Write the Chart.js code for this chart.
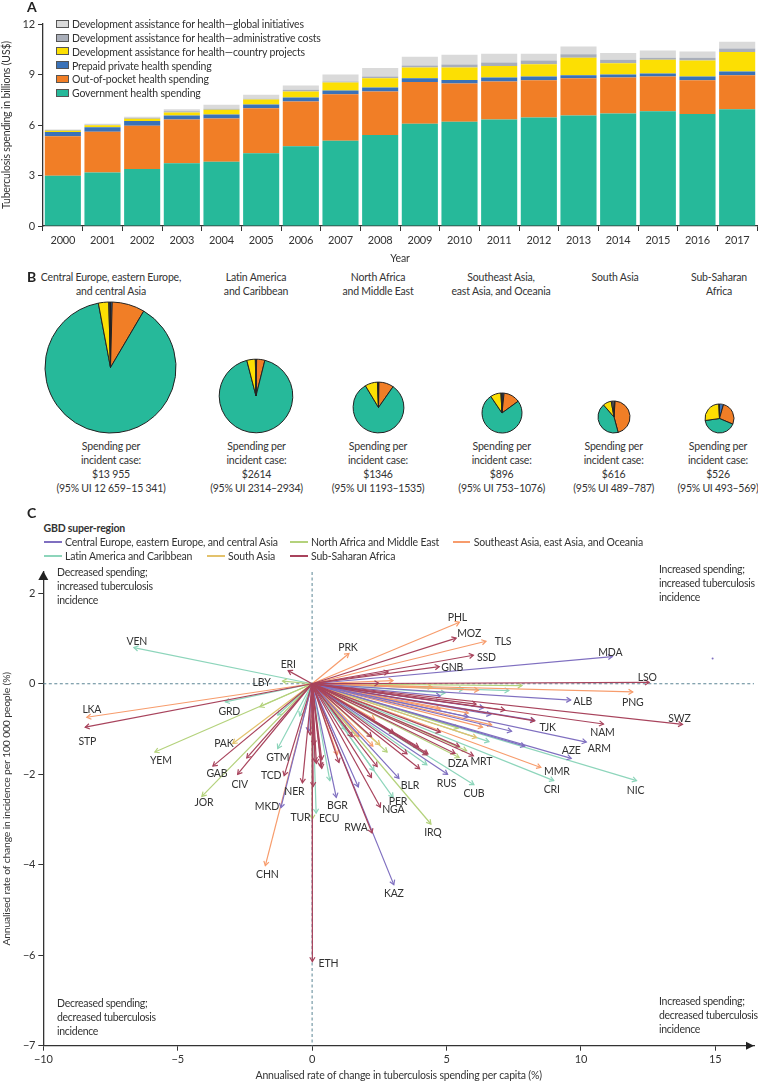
<!DOCTYPE html>
<html><head><meta charset="utf-8">
<script src="https://cdn.jsdelivr.net/npm/chart.js@4"></script>
<style>
html,body{margin:0;padding:0;background:#fff}
body{position:relative;width:758px;height:1082px;overflow:hidden;font-family:Lato,sans-serif;color:#333;font-size:10.5px;letter-spacing:-0.18px}
canvas{position:absolute;display:block}
.t{position:absolute;white-space:nowrap;line-height:13.7px}
.c{transform:translateX(-50%);text-align:center}
.h{font-weight:700;font-size:14px;color:#222}
.sw{position:absolute;box-sizing:border-box;width:13px;height:8px;border:1px solid #555}
.ln{position:absolute;height:1.5px;width:17.5px}
</style></head><body>
<canvas id="bars" width="758" height="270" style="left:0;top:0"></canvas>
<canvas id="arrows" width="758" height="522" style="left:0;top:560px"></canvas>
<script>
// ---------- Panel A ----------
const years = ['2000','2001','2002','2003','2004','2005','2006','2007','2008','2009','2010','2011','2012','2013','2014','2015','2016','2017'];
const government = [2.98,3.18,3.39,3.73,3.81,4.32,4.74,5.07,5.41,6.08,6.20,6.33,6.45,6.57,6.69,6.81,6.65,6.93];
const outOfPocket = [2.35,2.42,2.57,2.59,2.58,2.67,2.66,2.75,2.58,2.47,2.27,2.25,2.21,2.21,2.13,2.07,2.01,2.03];
const prepaid = [0.25,0.26,0.28,0.25,0.24,0.23,0.24,0.23,0.24,0.23,0.21,0.24,0.22,0.18,0.18,0.18,0.22,0.22];
const countryProjects = [0.08,0.12,0.13,0.18,0.28,0.30,0.35,0.48,0.55,0.63,0.73,0.69,0.73,1.04,0.67,0.81,0.95,1.16];
const adminCosts = [0.04,0.04,0.04,0.06,0.06,0.04,0.10,0.06,0.10,0.12,0.18,0.20,0.22,0.20,0.20,0.13,0.17,0.20];
const globalInitiatives = [0.04,0.06,0.08,0.12,0.23,0.24,0.26,0.41,0.51,0.52,0.59,0.53,0.41,0.46,0.41,0.42,0.36,0.41];
const spendNames = ['Government health spending','Out-of-pocket health spending','Prepaid private health spending','Development assistance for health—country projects','Development assistance for health—administrative costs','Development assistance for health—global initiatives'];
const spendColors = ['#26b99a','#f17e26','#3a72b8','#fcdf03','#a9aeb9','#dadada'];
const spendSeries = [government,outOfPocket,prepaid,countryProjects,adminCosts,globalInitiatives];
const barTicks = [0,3,6,9,12];

// ---------- Panel B (degrees of each pie: prepaid, out-of-pocket, government, country, admin, global) ----------
const pieRegions = [['Central Europe, eastern Europe,','and central Asia'],['Latin America','and Caribbean'],['North Africa','and Middle East'],['Southeast Asia,','east Asia, and Oceania'],['South Asia'],['Sub-Saharan','Africa']];
const pieCosts = ['$13 955','$2614','$1346','$896','$616','$526'];
const pieUI = ['(95% UI 12 659–15 341)','(95% UI 2314–2934)','(95% UI 1193–1535)','(95% UI 753–1076)','(95% UI 489–787)','(95% UI 493–569)'];
const pieCEE = [1.5,29,318.8,9.2,0.8,0.7];
const pieLAC = [1,13,331.5,13.5,0.5,0.5];
const pieNAME = [1,34,294,29,1,1];
const pieSEA = [6,48,272,31,2,1];
const pieSA = [4,161,154,31,6,4];
const pieSSA = [16,97,149,96,1,1];
const pieSeries = [pieCEE,pieLAC,pieNAME,pieSEA,pieSA,pieSSA];

// ---------- Panel C: [ISO code, spending change %, incidence change %] ----------
const ssaArrows = [['ERI',-0.89,0.29],['STP',-8.44,-0.96],['GAB',-3.69,-1.82],['CIV',-2.77,-2.0],['',-2.43,-1.64],['TCD',-1.04,-2.03],['NER',-0.36,-2.19],['ETH',0.01,-6.14],['RWA',2.23,-3.3],['NGA',2.54,-2.73],['MRT',6.0,-1.59],['MOZ',5.36,1.01],['SSD',6.0,0.63],['GNB',4.73,0.38],['LSO',12.54,0.03],['SWZ',13.78,-0.9],['NAM',10.84,-0.89],['',2.83,0.26],['',2.48,0.01],['',6.1,-0.45],['',7.17,-0.58],['',8.28,-0.82],['',4.77,-1.07],['',5.48,-1.39],['',5.32,-1.54],['',4.31,-1.55],['',3.96,-1.4],['',3.53,-1.55],['',4.0,-1.88],['',3.04,-1.09],['',2.21,-1.17],['',1.0,-1.74],['',0.33,-1.83],['',0.07,-1.35],['',-0.07,-1.13],['',2.21,-2.07],['',2.42,-1.83],['',0.36,-1.87],['',0.11,-1.72],['',0.04,-2.27],['',0.36,-1.68],['',0.16,-1.76],['',1.49,-1.17],['',4.27,-1.57]];
const ceeArrows = [['MKD',-1.16,-2.74],['BGR',0.9,-2.51],['KAZ',3.04,-4.44],['BLR',3.23,-2.09],['RUS',5.04,-2.0],['MDA',11.17,0.6],['ALB',9.62,-0.36],['TJK',8.28,-0.81],['ARM',10.2,-1.29],['AZE',9.64,-1.65],['',4.77,-0.27],['',6.38,-0.53],['',6.65,-0.68],['',7.42,-1.05],['',5.81,-0.73],['',7.91,-1.38],['',-0.14,-1.06],['',1.72,-2.28]];
const seaArrows = [['LKA',-8.38,-0.74],['CHN',-1.74,-4.02],['PHL',5.48,1.36],['TLS',6.47,0.94],['PRK',1.37,0.67],['PNG',11.93,-0.18],['MMR',8.51,-1.85],['',3.01,0.07],['',6.19,-0.14],['',5.81,-0.65],['',6.68,-0.91],['',6.34,-0.96],['',4.77,-0.56],['',2.33,-0.79],['',2.26,-1.38],['',0.94,-1.57],['',1.74,-1.17]];
const saArrows = [['PAK',-2.95,-1.32],['',4.46,-0.07],['',6.12,-1.19],['',2.52,-1.35]];
const nameArrows = [['LBY',-1.1,0.06],['YEM',-5.85,-1.51],['JOR',-4.1,-2.49],['TUR',0.01,-2.99],['IRQ',4.42,-3.1],['DZA',5.47,-1.63],['',7.81,-0.04],['',5.75,-1.48],['',5.44,-0.98],['',2.79,-1.51],['',-1.94,-0.51]];
const lacArrows = [['VEN',-6.63,0.8],['GRD',-3.23,-0.4],['GTM',-1.28,-1.43],['ECU',0.15,-2.86],['PER',3.01,-2.51],['CUB',6.02,-2.23],['NIC',12.07,-2.14],['CRI',8.99,-2.14],['',5.63,-0.12],['',7.32,-0.15],['',4.95,-0.2],['',6.58,-1.28],['',4.27,-1.79],['',0.66,-2.14],['',2.3,-1.92],['',-0.46,-0.71],['',-1.28,-0.69],['',1.25,-1.02]];
const strayPoint = [[14.9,0.56]];
const regionNames = ['Central Europe, eastern Europe, and central Asia','North Africa and Middle East','Southeast Asia, east Asia, and Oceania','Latin America and Caribbean','South Asia','Sub-Saharan Africa'];
const regionColors = ['#7f6fc0','#b4d27c','#f79c6c','#8dd5bb','#e3c26c','#a8435c'];
const regionArrows = [ceeArrows,nameArrows,seaArrows,lacArrows,saArrows,ssaArrows];
const drawOrder = [5,0,2,4,1,3];
const xTickValues = [-10,-5,0,5,10,15];
const yTickValues = [2,0,-2,-4,-6,-8];
const yTickLabels = ['2','0','−2','−4','−6','−7'];
const labelOffset = {VEN:[3,-6],ERI:[0,-6],LBY:[-21,2],LKA:[5,-8],STP:[2,14],GRD:[4,10],YEM:[6,9],PAK:[-9,0],GAB:[4,8],CIV:[2,10],JOR:[2,6],GTM:[0,9],TCD:[-13,0],NER:[-8,9],MKD:[-14,-1],TUR:[-12,-1],ECU:[13,5],BGR:[1,8],CHN:[2,9],ETH:[16,2],KAZ:[0,9],RWA:[-16,-5],NGA:[13,2],PER:[5,4],BLR:[11,7],RUS:[-1,9],IRQ:[2,9],CUB:[0,9],DZA:[-1,6],MRT:[8,6],PHL:[-2,-5],MOZ:[13,-4],TLS:[17,0],SSD:[13,2],GNB:[13,1],PRK:[-1,-6],MDA:[-2,-4],LSO:[-2,-5],PNG:[0,11],ALB:[12,2],SWZ:[-3,-6],NAM:[-1,9],TJK:[13,7],ARM:[13,6],AZE:[0,-8],NIC:[-1,10],MMR:[16,4],CRI:[-2,9]};

const FONT='Lato, sans-serif', INK='#333';
Chart.defaults.font.family=FONT; Chart.defaults.font.size=11; Chart.defaults.color=INK;
Chart.defaults.animation=false; Chart.defaults.responsive=false;

function addText(txt,x,y,cls,style){const d=document.createElement('div');d.className='t '+(cls||'');d.textContent=txt;d.style.left=x+'px';d.style.top=(y-5.6)+'px';if(style)Object.assign(d.style,style);document.body.appendChild(d);return d;}

// Panel A
new Chart(document.getElementById('bars'),{type:'bar',
 data:{labels:years,datasets:spendSeries.map((s,i)=>({label:spendNames[i],data:s,backgroundColor:spendColors[i],stack:'a',barPercentage:0.91,categoryPercentage:1}))},
 options:{layout:{padding:{top:24,left:0,right:1,bottom:0}},
  plugins:{legend:{display:false},tooltip:{enabled:false}},
  scales:{
   x:{stacked:true,afterFit:s=>{s.height=44},grid:{offset:true,drawOnChartArea:false,tickLength:5,color:INK,tickColor:INK},border:{color:INK,width:1.3},ticks:{maxRotation:0,autoSkip:false,padding:3,color:INK,font:{size:11}},title:{display:true,text:'Year',color:INK,font:{size:10.5},padding:{top:3,bottom:5}}},
   y:{stacked:true,min:0,max:12,afterFit:s=>{s.width=43},afterBuildTicks:s=>{s.ticks=barTicks.map(v=>({value:v}))},grid:{drawOnChartArea:false,tickLength:5,color:INK,tickColor:INK},border:{color:INK,width:1.3},ticks:{padding:3,color:INK,font:{size:11}},title:{display:true,text:'Tuberculosis spending in billions (US$)',color:INK,font:{size:10.5},padding:{top:0,bottom:0}}}
  }}});
// Panel A legend
for(let i=5;i>=0;i--){const y=24+(5-i)*13.7;const s=document.createElement('div');s.className='sw';s.style.left='55.5px';s.style.top=(y-4)+'px';s.style.background=spendColors[i];document.body.appendChild(s);addText(spendNames[i],72,y);}

// Panel B
const pieGeom=[[110.5,367.7,65.5],[255.8,396,36.8],[378,407.6,25.4],[502.2,413,20],[613.8,417,16],[719.5,418.5,14.5]];
const headX=[111,256,378,501,615,719], footX=[111,256.5,378,501.7,613.7,718];
pieSeries.forEach((vals,i)=>{
 const [cx,cy,r]=pieGeom[i], size=Math.ceil(2*r)+6;
 const c=document.createElement('canvas');c.width=size;c.height=size;c.style.left=(cx-size/2)+'px';c.style.top=(cy-size/2)+'px';document.body.appendChild(c);
 new Chart(c,{type:'pie',data:{labels:['Prepaid private','Out-of-pocket','Government','Country projects','Administrative costs','Global initiatives'],
  datasets:[{data:vals,radius:r,backgroundColor:[spendColors[2],spendColors[1],spendColors[0],spendColors[3],spendColors[4],spendColors[5]],borderColor:'#222',borderWidth:1}]},
  options:{layout:{padding:1},plugins:{legend:{display:false},tooltip:{enabled:false}}}});
 pieRegions[i].forEach((l,k)=>addText(l,headX[i],277+k*14,'c'));
 ['Spending per','incident case:',pieCosts[i],pieUI[i]].forEach((l,k)=>addText(l,footX[i],446+k*13.7,'c',k==3?{letterSpacing:'-0.25px'}:null));
});

// Panel C
const rows=[];
drawOrder.forEach(ri=>regionArrows[ri].forEach(a=>rows.push({code:a[0],region:ri,x:a[1],y:a[2]})));
const arrowData=rows.map(a=>({label:a.code||regionNames[a.region],data:[{x:0,y:0},{x:a.x,y:a.y}],showLine:true,borderColor:regionColors[a.region],borderWidth:1.2,pointRadius:0,code:a.code,clip:false}));
arrowData.push({label:'',data:strayPoint.map(p=>({x:p[0],y:p[1]})),showLine:false,pointRadius:1,backgroundColor:regionColors[0],borderWidth:0});
const arrowPlugin={id:'arrows',
 beforeDatasetsDraw(ch){const {ctx,scales:{x,y}}=ch;ctx.save();ctx.setLineDash([3,2.5]);ctx.lineWidth=1;ctx.strokeStyle='#5b8594';
  ctx.beginPath();ctx.moveTo(x.getPixelForValue(0),y.top);ctx.lineTo(x.getPixelForValue(0),y.bottom);ctx.moveTo(x.left,y.getPixelForValue(0));ctx.lineTo(x.right,y.getPixelForValue(0));ctx.stroke();ctx.restore();},
 afterDatasetDraw(ch,args){const ds=ch.data.datasets[args.index];if(!ds.showLine)return;const {ctx}=ch;const m=ch.getDatasetMeta(args.index).data;const a=m[0],b=m[1];const ang=Math.atan2(b.y-a.y,b.x-a.x);const L=5,W=0.55;
  ctx.save();ctx.strokeStyle=ds.borderColor;ctx.lineWidth=1.2;ctx.beginPath();ctx.moveTo(b.x-L*Math.cos(ang-W),b.y-L*Math.sin(ang-W));ctx.lineTo(b.x,b.y);ctx.lineTo(b.x-L*Math.cos(ang+W),b.y-L*Math.sin(ang+W));ctx.stroke();ctx.restore();},
 afterDatasetsDraw(ch){const {ctx,scales:{x,y}}=ch;ctx.save();ctx.fillStyle='#222';
  ctx.beginPath();ctx.moveTo(x.left,y.top-1);ctx.lineTo(x.left-5,y.top+8);ctx.lineTo(x.left+5,y.top+8);ctx.closePath();ctx.fill();
  ctx.beginPath();ctx.moveTo(x.right,y.bottom);ctx.lineTo(x.right-8,y.bottom-4);ctx.lineTo(x.right-8,y.bottom+4);ctx.closePath();ctx.fill();
  ctx.font='10.5px '+FONT;ctx.fillStyle=INK;ctx.textAlign='center';ctx.textBaseline='middle';
  ch.data.datasets.forEach((ds,i)=>{if(!ds.code)return;const b=ch.getDatasetMeta(i).data[1];const o=labelOffset[ds.code]||[0,0];ctx.fillText(ds.code,b.x+o[0],b.y+o[1]);});
  ctx.restore();}
};
new Chart(document.getElementById('arrows'),{type:'scatter',data:{datasets:arrowData},plugins:[arrowPlugin],
 options:{layout:{padding:{top:12,left:0,right:1,bottom:0}},plugins:{legend:{display:false},tooltip:{enabled:false}},
  scales:{
   x:{type:'linear',min:-10,max:16.44,afterFit:s=>{s.height=36.3},afterBuildTicks:s=>{s.ticks=xTickValues.map(v=>({value:v}))},grid:{drawOnChartArea:false,tickLength:5,color:INK,tickColor:INK},border:{color:INK,width:1.3},
    ticks:{padding:2,color:INK,font:{size:11},maxRotation:0,callback:v=>String(v).replace('-','−')},title:{display:true,text:'Annualised rate of change in tuberculosis spending per capita (%)',color:INK,font:{size:10.5},padding:{top:4,bottom:0}}},
   y:{type:'linear',min:-8,max:2.47,afterFit:s=>{s.width=43.3},afterBuildTicks:s=>{s.ticks=yTickValues.map(v=>({value:v}))},grid:{drawOnChartArea:false,tickLength:5,color:INK,tickColor:INK},border:{color:INK,width:1.3},
    ticks:{padding:3,color:INK,font:{size:11},callback:v=>yTickLabels[yTickValues.indexOf(v)]},title:{display:true,text:'Annualised rate of change in incidence per 100 000 people (%)',color:INK,font:{size:10.4},padding:{top:0,bottom:0}}}
  }}});
// Panel C legend
addText('GBD super-region',43.5,528,'',{fontWeight:'700'});
const legendSlots=[[44,542],[290,542],[452.7,542],[44,556],[207,556],[290,556]];
regionNames.forEach((n,i)=>{const [x,y]=legendSlots[i];const l=document.createElement('div');l.className='ln';l.style.left=x+'px';l.style.top=(y-1)+'px';l.style.background=regionColors[i];document.body.appendChild(l);addText(n,x+21,y);});
// Quadrant notes
[[57,572,['Decreased spending;','increased tuberculosis','incidence']],[659,569,['Increased spending;','increased tuberculosis','incidence']],[57,1003,['Decreased spending;','decreased tuberculosis','incidence']],[659,1001,['Increased spending;','decreased tuberculosis','incidence']]].forEach(q=>q[2].forEach((l,k)=>addText(l,q[0],q[1]+k*14,'',{letterSpacing:'-0.28px'})));
// Panel letters
addText('A',27,6,'h');addText('B',27,276,'h');addText('C',27,512,'h');
</script>
</body></html>
